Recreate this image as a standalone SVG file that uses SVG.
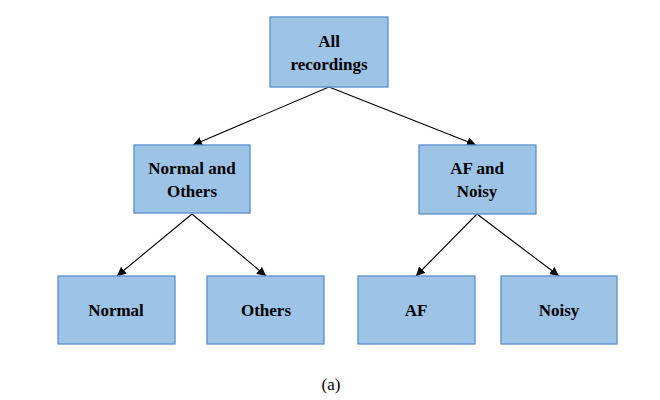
<svg xmlns="http://www.w3.org/2000/svg" width="660" height="400" viewBox="0 0 660 400">
<style>
.n{fill:#9DC3E6;stroke:#5B8FC9;stroke-width:1.3}
.t{font-family:"Liberation Serif",serif;font-weight:bold;font-size:17px;fill:#000;text-anchor:middle}
.c{stroke:#000;stroke-width:1.1;fill:none;marker-end:url(#a)}
</style>
<defs><marker id="a" viewBox="0 0 10 10" refX="10" refY="5" markerWidth="9" markerHeight="9" orient="auto" markerUnits="userSpaceOnUse"><path d="M0,0L10,5L0,10z" fill="#000"/></marker></defs>
<rect width="660" height="400" fill="#fff"/>
<g id="connectors">
<path class="c" d="M329,87L193,145"/>
<path class="c" d="M329,87L476,145"/>
<path class="c" d="M192,214L117,276"/>
<path class="c" d="M192,214L266,276"/>
<path class="c" d="M477,214L416,276"/>
<path class="c" d="M477,214L559,276"/>
</g>
<g id="all"><rect class="n" x="270" y="17" width="118" height="70"/><text class="t" x="329" y="47">All</text><text class="t" x="329" y="70">recordings</text></g>
<g id="normalothers"><rect class="n" x="134" y="145" width="116" height="68"/><text class="t" x="192" y="174">Normal and</text><text class="t" x="192" y="197">Others</text></g>
<g id="afnoisy"><rect class="n" x="419" y="145" width="117" height="69"/><text class="t" x="477" y="174">AF and</text><text class="t" x="477" y="197">Noisy</text></g>
<g id="normal"><rect class="n" x="58" y="276" width="117" height="68"/><text class="t" x="116" y="316">Normal</text></g>
<g id="others"><rect class="n" x="207" y="276" width="117" height="68"/><text class="t" x="266" y="316">Others</text></g>
<g id="af"><rect class="n" x="358" y="276" width="117" height="68"/><text class="t" x="416" y="316">AF</text></g>
<g id="noisy"><rect class="n" x="501" y="276" width="116" height="68"/><text class="t" x="559" y="316">Noisy</text></g>
<text x="331" y="390" font-family="Liberation Serif,serif" font-size="17" text-anchor="middle">(a)</text>
</svg>
